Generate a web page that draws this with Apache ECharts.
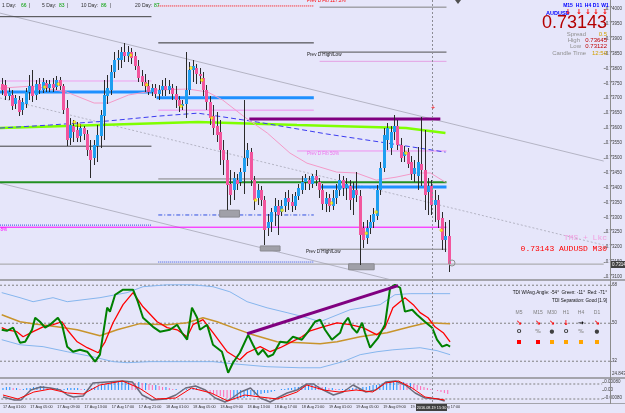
<!DOCTYPE html>
<html>
<head>
<meta charset="utf-8">
<script src="https://cdn.jsdelivr.net/npm/echarts@6/dist/echarts.min.js"></script>
<style>
  html, body { margin: 0; padding: 0; background: #e6e6fa; }
  #chart { width: 625px; height: 413px; }
</style>
</head>
<body>
<div id="chart"></div>
<script>
// AUDUSD M30, 17 Aug 01:00 -> 19 Aug, one value per candle
var opens = [0.73748,0.73744,0.73707,0.73711,0.73681,0.73694,0.73660,0.73681,0.73721,0.73741,
  0.73711,0.73748,0.73728,0.73751,0.73734,0.73748,0.73738,0.73761,0.73741,0.73667,
  0.73566,0.73607,0.73593,0.73573,0.73600,0.73580,0.73526,0.73499,0.73539,0.73573,
  0.73640,0.73707,0.73728,0.73788,0.73828,0.73828,0.73855,0.73842,0.73855,0.73842,
  0.73808,0.73775,0.73754,0.73741,0.73721,0.73734,0.73714,0.73728,0.73741,0.73728,
  0.73734,0.73714,0.73694,0.73674,0.73681,0.73728,0.73795,0.73802,0.73781,0.73768,
  0.73728,0.73687,0.73640,0.73607,0.73586,0.73526,0.73492,0.73412,0.73392,0.73425,
  0.73418,0.73452,0.73499,0.73519,0.73425,0.73365,0.73392,0.73358,0.73264,0.73284,
  0.73318,0.73338,0.73318,0.73338,0.73365,0.73351,0.73338,0.73371,0.73392,0.73418,
  0.73425,0.73412,0.73439,0.73418,0.73392,0.73345,0.73365,0.73338,0.73365,0.73392,
  0.73425,0.73398,0.73405,0.73365,0.73392,0.73371,0.73264,0.73230,0.73264,0.73284,
  0.73304,0.73392,0.73466,0.73560,0.73533,0.73586,0.73607,0.73543,0.73506,0.73519,
  0.73486,0.73445,0.73439,0.73479,0.73459,0.73385,0.73405,0.73341,0.73358,0.73298,
  0.73224,0.73237];
var closes = [0.73728,0.73707,0.73721,0.73674,0.73701,0.73654,0.73687,0.73721,0.73741,0.73707,
  0.73748,0.73728,0.73754,0.73734,0.73748,0.73734,0.73761,0.73741,0.73660,0.73560,
  0.73610,0.73586,0.73566,0.73600,0.73580,0.73526,0.73492,0.73543,0.73576,0.73644,
  0.73711,0.73734,0.73788,0.73828,0.73835,0.73855,0.73842,0.73855,0.73835,0.73808,
  0.73768,0.73754,0.73741,0.73721,0.73734,0.73714,0.73728,0.73741,0.73728,0.73741,
  0.73714,0.73694,0.73674,0.73681,0.73728,0.73795,0.73808,0.73781,0.73775,0.73728,
  0.73687,0.73634,0.73600,0.73576,0.73526,0.73492,0.73408,0.73375,0.73432,0.73412,
  0.73452,0.73499,0.73526,0.73425,0.73358,0.73392,0.73358,0.73257,0.73284,0.73318,
  0.73338,0.73308,0.73338,0.73365,0.73351,0.73338,0.73371,0.73398,0.73418,0.73432,
  0.73412,0.73439,0.73425,0.73392,0.73345,0.73365,0.73338,0.73365,0.73392,0.73425,
  0.73398,0.73412,0.73358,0.73392,0.73375,0.73240,0.73224,0.73264,0.73284,0.73311,
  0.73392,0.73466,0.73576,0.73600,0.73586,0.73607,0.73543,0.73499,0.73519,0.73479,
  0.73445,0.73466,0.73486,0.73459,0.73375,0.73405,0.73341,0.73358,0.73291,0.73224,
  0.73237,0.73143];
var highs = [0.73768,0.73761,0.73734,0.73728,0.73711,0.73707,0.73701,0.73734,0.73778,0.73795,
  0.73761,0.73768,0.73768,0.73761,0.73761,0.73768,0.73775,0.73771,0.73748,0.73694,
  0.73634,0.73627,0.73620,0.73613,0.73607,0.73593,0.73560,0.73560,0.73610,0.73660,
  0.73761,0.73778,0.73812,0.73855,0.73862,0.73872,0.73886,0.73875,0.73869,0.73855,
  0.73828,0.73795,0.73781,0.73761,0.73748,0.73748,0.73744,0.73761,0.73768,0.73761,
  0.73748,0.73741,0.73707,0.73694,0.73855,0.73822,0.73828,0.73815,0.73802,0.73788,
  0.73744,0.73707,0.73677,0.73654,0.73627,0.73560,0.73526,0.73459,0.73452,0.73445,
  0.73466,0.73694,0.73550,0.73533,0.73439,0.73412,0.73405,0.73371,0.73311,0.73331,
  0.73365,0.73358,0.73358,0.73385,0.73392,0.73378,0.73385,0.73412,0.73439,0.73445,
  0.73439,0.73445,0.73459,0.73432,0.73412,0.73385,0.73378,0.73392,0.73412,0.73445,
  0.73439,0.73432,0.73425,0.73418,0.73452,0.73392,0.73284,0.73291,0.73308,0.73331,
  0.73408,0.73486,0.73600,0.73617,0.73607,0.73644,0.73627,0.73566,0.73539,0.73533,
  0.73506,0.73492,0.73536,0.73637,0.73593,0.73432,0.73425,0.73392,0.73375,0.73318,
  0.73284,0.73291];
var lows = [0.73711,0.73694,0.73694,0.73660,0.73664,0.73640,0.73644,0.73667,0.73694,0.73687,
  0.73694,0.73714,0.73718,0.73721,0.73721,0.73721,0.73728,0.73728,0.73647,0.73539,
  0.73543,0.73553,0.73553,0.73553,0.73560,0.73506,0.73432,0.73476,0.73486,0.73533,
  0.73560,0.73681,0.73711,0.73768,0.73795,0.73802,0.73822,0.73822,0.73815,0.73795,
  0.73754,0.73741,0.73721,0.73711,0.73707,0.73701,0.73694,0.73707,0.73707,0.73714,
  0.73694,0.73667,0.73654,0.73660,0.73634,0.73711,0.73754,0.73748,0.73748,0.73707,
  0.73660,0.73610,0.73576,0.73553,0.73476,0.73442,0.73324,0.73341,0.73358,0.73392,
  0.73405,0.73378,0.73472,0.73405,0.73324,0.73341,0.73338,0.73207,0.73237,0.73250,
  0.73271,0.73240,0.73304,0.73318,0.73324,0.73318,0.73324,0.73358,0.73378,0.73392,
  0.73392,0.73398,0.73405,0.73365,0.73324,0.73318,0.73318,0.73324,0.73345,0.73371,
  0.73371,0.73358,0.73324,0.73308,0.73351,0.73140,0.73197,0.73210,0.73244,0.73264,
  0.73291,0.73375,0.73452,0.73526,0.73509,0.73560,0.73526,0.73486,0.73486,0.73466,
  0.73425,0.73418,0.73392,0.73405,0.73324,0.73308,0.73308,0.73284,0.73264,0.73190,
  0.73183,0.73116];

var priceTicks = [0.7310,0.7315,0.7320,0.7325,0.7330,0.7335,0.7340,0.7345,0.7350,0.7355,
  0.7360,0.7365,0.7370,0.7375,0.7380,0.7385,0.7390,0.7395,0.7400];
var timeLabels = ['17 Aug 01:00','17 Aug 05:00','17 Aug 09:00','17 Aug 13:00','17 Aug 17:00','17 Aug 21:00',
  '18 Aug 01:00','18 Aug 05:00','18 Aug 09:00','18 Aug 13:00','18 Aug 17:00','18 Aug 21:00',
  '19 Aug 01:00','19 Aug 05:00','19 Aug 09:00','19 Aug 13:00','19 Aug 17:00'];
var timeTicks = [0,8,16,24,32,40,48,56,64,72,80,88,96,104,112,120,128];

// horizontal levels: price, first candle, last candle
var levelPrice = [0.73974,0.74010,0.74006,0.73886,0.73855,0.73824,0.73758,0.73721,0.73702,0.73660,
  0.73630,0.73539,0.73523,0.73429,0.73418,0.73402,0.73308,0.73274,0.73267,0.73193,0.73150,0.73143];
var levelFrom = [-0.5,45.9,93.2,45.9,93.2,93.2,-0.5,-0.5,45.4,45.9,
  72.6,-0.5,86.6,45.9,-0.5,93.2,45.9,-0.5,-0.5,93.2,45.9,-0.5];
var levelTo = [43.9,91.5,130.4,91.5,130.4,130.4,43.9,44.5,91.5,91.5,
  128.6,43.9,130.4,93.2,130.4,130.4,91.5,43.9,130.4,130.4,91.5,176.5];
var levelStyle = [
  {color:'#404040', width:1}, {color:'#ff0000', width:1, type:'dotted'}, {color:'#808080', width:1},
  {color:'#303030', width:1}, {color:'#505050', width:1}, {color:'#e4a0e4', width:1},
  {color:'#f0a0f0', width:1}, {color:'#1e90ff', width:3}, {color:'#1e90ff', width:3},
  {color:'#f090f0', width:1}, {color:'#800080', width:3}, {color:'#404040', width:1},
  {color:'#f090f0', width:1}, {color:'#808080', width:1}, {color:'#229022', width:2},
  {color:'#1e90ff', width:3}, {color:'#3050e0', width:1, type:[4,2,1,2]}, {color:'#3050e0', width:1, type:'dotted'},
  {color:'#ff00ff', width:1}, {color:'#808080', width:1}, {color:'#3050e0', width:1, type:'dotted'},
  {color:'#a0a0a0', width:1}
];

// trend lines [candle, price]
var trendA = [[-0.5,0.73986],[176.5,0.73489]];
var trendB = [[-0.5,0.73701],[176.5,0.73207]];
var trendC = [[-0.5,0.73415],[115.6,0.73086]];

// moving averages on price
var maLime = [[-0.5,0.73600],[28.5,0.73610],[57.5,0.73620],[86.6,0.73610],[118.5,0.73600],[130.1,0.73583]];
var maBlue = [[-0.5,0.73600],[14,0.73610],[31.4,0.73624],[45.9,0.73640],[57.5,0.73650],[75,0.73620],
  [95.3,0.73580],[112.7,0.73550],[130.1,0.73519]];
var maPink = [[-0.5,0.73734],[9.1,0.73741],[19,0.73721],[27.1,0.73684],[31.4,0.73684],[37.2,0.73711],
  [45.9,0.73728],[54.6,0.73731],[60.4,0.73721],[64.8,0.73694],[71.2,0.73637],[77.9,0.73583],
  [84.5,0.73516],[89.5,0.73482],[98.2,0.73452],[104,0.73449],[109.8,0.73425],[115.6,0.73435],
  [121.4,0.73449],[125.7,0.73449],[130.1,0.73418]];

// swing-low boxes: from, to, top price, bottom price
var boxes = [[63.9,69.7,0.73324,0.73301],[75.8,81.6,0.73204,0.73187],[101.7,109.2,0.73144,0.73124]];
var dots = [[12.6,0.73738],[16.6,0.73748],[21.3,0.73620],[22.7,0.73610],[37.8,0.73845],[42.5,0.73745],
  [52.6,0.73674],[55.5,0.73802],[58.7,0.73761],[61.6,0.73634],[74.4,0.73358],[82.2,0.73324],
  [96.7,0.73348],[106.9,0.73247],[109.8,0.73318],[118.5,0.73516],[128.9,0.73257]];

// TDI panel
var tdiGreen = [[0,46.9],[1.5,46.4],[3.3,47.9],[5.3,40.8],[6.8,41.2],[8.8,46.9],[9.7,52.6],[11.1,50.7],
  [12.6,47.9],[14,49.3],[16.3,52.6],[17.5,49.3],[19,38.9],[20.7,36.5],[22.7,37.4],[24.8,36.5],
  [27.1,31.8],[28.5,35.1],[30.6,57.4],[31.4,55.5],[32.9,63.5],[35.2,65.9],[38.1,65.9],[39.5,60.2],
  [41,52.6],[43.9,48.3],[45.9,46],[48.8,46.9],[50.9,49.3],[52.3,45.5],[53.8,42.2],[55.2,57.4],
  [56.7,52.6],[57.5,46.9],[59.6,49.3],[61.3,39.8],[63.9,36.5],[65.7,26.5],[67.1,31.3],[69.1,36],
  [71.5,44.5],[72.9,39.8],[74.4,35.1],[75.8,37.4],[77.3,34.1],[78.7,35.1],[80.8,41.2],[82.8,40.8],
  [84.5,43.6],[87.1,42.2],[88.9,46],[90.9,50.7],[92.4,51.7],[93.8,46.9],[95.8,42.2],[98.2,45.5],
  [99,49.3],[100.5,52.6],[101.7,47.9],[103.1,45.5],[104.6,50.2],[105.4,45.5],[106.9,38.4],[109.2,43.1],
  [111.2,49.3],[112.7,66.8],[114.1,68.2],[115.6,66.8],[117,55.5],[119.1,56.4],[120.5,54],[122.8,50.7],
  [124.9,47.9],[126.3,42.2],[127.8,38.9],[129.2,39.8],[130.1,38.9]];
var tdiRed = [[0,47.9],[1.5,46.9],[4.4,46],[6.2,43.6],[9.1,46],[12,48.3],[14.9,49.3],[17.5,50.7],
  [19,46.9],[21.9,41.2],[24.8,38.4],[28,36],[30,41.2],[32.3,50.2],[35.2,58.8],[38.1,64.5],[41,57.8],
  [45.1,50.7],[48,47.9],[50.9,46.9],[53.8,43.6],[55.5,49.3],[58.4,51.7],[61.3,45.5],[65.4,36.5],
  [69.1,32.7],[71.2,36],[75,38.9],[77.9,36.5],[80.8,38.4],[83.7,40.8],[87.1,43.6],[89.5,46.4],
  [93.2,48.3],[97.3,50.2],[101.1,49.3],[104.8,47.9],[108.9,44.5],[111.2,47.9],[113.5,57.3],[117,62.1],
  [119.4,58.8],[121.4,55],[123.7,52.6],[125.7,48.3],[128.1,45.5],[130.1,41.2]];
var tdiUpper = [[0,64.5],[5.3,62.1],[9.1,60.2],[14.9,62.1],[19,60.2],[28.5,62.1],[36.4,64.5],[41,67.3],
  [48,68.2],[55.5,68.2],[61.3,67.3],[66.2,64.9],[71.2,60.2],[77,57.3],[82.8,55],[88.6,52.6],[92.4,50.7],
  [101.1,56.4],[109.8,58.8],[114.1,63.5],[118.5,64],[130.1,64]];
var tdiLower = [[0,42.2],[5.3,39.8],[12,38.9],[19,36.5],[26.5,34.1],[32.3,31.8],[36.4,31.3],[43,31.8],
  [53.8,31.8],[61.3,31.8],[67.1,30.8],[77,29.4],[86.6,28.9],[92.4,28.9],[99,31.8],[104,35.1],
  [108.9,36.5],[113.5,37.4],[121.4,38.4],[126.3,37],[130.1,35.1]];
var tdiMid = [[0,54],[5.3,50.7],[9.1,49.8],[16,48.3],[21.9,46.9],[28.5,44.1],[33.5,46.9],[40.1,49.8],
  [48,49.3],[53.8,50.2],[58.4,52.6],[62.5,50.7],[67.1,47.9],[72.9,44.5],[79.9,41.2],[86.6,40.8],
  [92.4,40.3],[97.3,41.2],[104,43.6],[111.8,45.5],[118.5,48.3],[123.4,50.2],[130.1,49.8]];
var tdiTrend = [[71.2,45],[115,67.8]];
var tdiLevels = [68, 50, 32];

// oscillator panel (points)
var oscHist = [2,3,3,2,2,1, 1,2,2,3, 3,4,4,3,2, 2,2,1,1,2, 2,2,2,1,1, 1,2,3,4,5,
  6,7,8,8,9, 9,9,9,8,7, 8,7,7,6,5,5,4,3,3, 2,1,1,0,1,1, 1,2,2,1,
  -1,-2,-3,-4,-5,-6,-7,-8,-9,-9, -9,-8,-8,-7,-6,-5,-5,-4,-3,
  -3,-2,-1,0,1,1, 2,2,3,3,4,4,5,5,5, 4,3,3,2,2,1,1,1,
  1,1,2,2,2,3,3,4,5,5,6,7, 8,9,9,9,8, 8,7,7,6,5,4,3,2,1,0,-1,-2,-3,-4];
var oscMain = [[0,-7],[3.3,-10],[5.3,-10],[8.2,0],[11.1,3],[14,2],[16.9,0],[19,-5],[20.7,-7],[23.6,-6],
  [26.5,7],[30.6,8],[35.2,9],[38.1,8],[41,-5],[43.9,-10],[48,-9],[50.9,-5],[53.8,2],[56.7,4],[59.6,0],
  [62.5,-8],[65.4,-12],[67.1,-9],[70,-2],[72.9,2],[75.8,-8],[78.7,-12],[80.8,-8],[83.7,-3],[86.6,0],
  [89.5,6],[91.5,6],[93.2,2],[97.3,-5],[100.2,-2],[103.1,5],[106.9,-2],[109.8,0],[112.7,8],[115.6,9],
  [118.5,5],[121.4,-3],[124.3,-8],[128.1,-9],[130.1,-11]];
var oscSignal = [[0,-5],[4.4,-9],[9.1,-2],[14,1],[19,-3],[23.6,-4],[28.5,5],[35.2,9],[40.1,2],[45.1,-9],
  [50.9,-8],[55.5,2],[61.3,-3],[66.2,-11],[71.2,-5],[75.8,-7],[80.8,-9],[86.6,-2],[89.5,5],[94.4,0],
  [99,-2],[104,0],[108.9,-2],[112.7,7],[116.5,9],[120.5,2],[124.3,-7],[130.1,-10]];
var oscLevels = [6, -9];
var oscTicks = [8, 0, -8];

var tfNames = ['M5','M15','M30','H1','H4','D1'];
var tfArrows = ['\u2198','\u2198','\u2198','\u2193','\u2192','\u2198'];
var tfMarks = ['O','%','\u25CF','O','%','\u25CF'];

var FONT = 'Liberation Sans, Arial, sans-serif';
var chartDOM = document.getElementById('chart');
var chart = echarts.init(chartDOM, null, { renderer: 'canvas' });

function xAx(i, show) {
  return {
    gridIndex: i, type: 'value', min: -0.5, max: 176.5, show: show,
    axisLine: { show: false, onZero: false }, axisTick: { show: false }, splitLine: { show: false },
    axisLabel: {
      show: show, customValues: timeTicks, fontSize: 3.8, color: '#303030', fontFamily: FONT,
      align: 'left', margin: 2,
      formatter: function (v) { return timeLabels[Math.round(v / 8)]; }
    }
  };
}
function yAx(i, min, max, ticks, fmt) {
  return {
    gridIndex: i, type: 'value', position: 'right', min: min, max: max,
    axisLine: { show: false, onZero: false },
    axisTick: { show: true, length: 2, customValues: ticks, lineStyle: { color: '#8c8c8c' } },
    splitLine: { show: false },
    axisLabel: { customValues: ticks, formatter: fmt, fontSize: 4.5, color: '#404040', margin: 2, fontFamily: FONT }
  };
}
function line(data, color, width, xi, extra) {
  var s = {
    type: 'line', xAxisIndex: xi, yAxisIndex: xi, data: data, symbol: 'none', silent: true,
    lineStyle: { color: color, width: width }, z: 3
  };
  if (extra) { for (var k in extra) s[k] = extra[k]; }
  return s;
}

var series = [];
// levels
levelPrice.forEach(function (p, k) {
  var st = levelStyle[k];
  series.push(line([[levelFrom[k], p], [levelTo[k], p]], st.color, st.width, 0,
    { lineStyle: { color: st.color, width: st.width, type: st.type || 'solid' }, z: 2 }));
});
series.push(line(trendA, '#b4b4c4', 1, 0, { z: 1 }));
series.push(line(trendB, '#b4b4c4', 1, 0, { z: 1, lineStyle: { color: '#b4b4c4', width: 1, type: [2, 2] } }));
series.push(line(trendC, '#b4b4c4', 1, 0, { z: 1 }));
series.push(line(maLime, '#7fff00', 2.5, 0, { z: 2 }));
series.push(line(maBlue, '#3c3cf0', 1, 0, { z: 2, lineStyle: { color: '#3c3cf0', width: 1, type: [5, 3] } }));
series.push(line(maPink, '#f49ac8', 1, 0, { z: 2 }));

// swing boxes
series.push({
  type: 'custom', xAxisIndex: 0, yAxisIndex: 0, z: 4, silent: true,
  renderItem: function (params, api) {
    var a = api.coord([api.value(0), api.value(2)]);
    var b = api.coord([api.value(1), api.value(3)]);
    return { type: 'rect', shape: { x: a[0], y: a[1], width: b[0] - a[0], height: b[1] - a[1] },
      style: { fill: '#a0a0a8', stroke: '#8a8a90' } };
  },
  encode: { x: [0, 1], y: [2, 3] },
  data: boxes
});

// candles
var candleData = opens.map(function (o, i) { return [i, o, closes[i], lows[i], highs[i]]; });
series.push({
  type: 'custom', xAxisIndex: 0, yAxisIndex: 0, z: 5, silent: true,
  renderItem: function (params, api) {
    var i = api.value(0);
    var o = api.coord([i, api.value(1)]);
    var c = api.coord([i, api.value(2)]);
    var l = api.coord([i, api.value(3)]);
    var h = api.coord([i, api.value(4)]);
    var x = Math.round(o[0]);
    var top = Math.round(Math.min(o[1], c[1]));
    var bh = Math.max(1, Math.round(Math.abs(o[1] - c[1])));
    var up = api.value(2) >= api.value(1);
    return { type: 'group', children: [
      { type: 'line', shape: { x1: x + 0.5, y1: Math.round(h[1]), x2: x + 0.5, y2: Math.round(l[1]) },
        style: { stroke: '#2a2a2a', lineWidth: 1 } },
      { type: 'rect', shape: { x: x - 1, y: top, width: 3, height: bh },
        style: { fill: up ? '#1e9ef0' : '#f2559d' } }
    ] };
  },
  encode: { x: 0, y: [1, 2, 3, 4] },
  data: candleData
});
series.push({
  type: 'scatter', xAxisIndex: 0, yAxisIndex: 0, z: 6, silent: true, symbolSize: 3,
  itemStyle: { color: '#ffff00', borderColor: '#d0a000', borderWidth: 0.5 }, data: dots
});

// TDI
tdiLevels.forEach(function (v) {
  series.push(line([[-0.5, v], [176.5, v]], '#808080', 1, 1,
    { z: 1, lineStyle: { color: '#808080', width: 1, type: [2, 2] } }));
});
series.push(line(tdiUpper, '#86b6ee', 1, 1));
series.push(line(tdiLower, '#86b6ee', 1, 1));
series.push(line(tdiMid, '#c8942c', 1.5, 1));
series.push(line(tdiRed, '#ff0000', 1.3, 1, { z: 4 }));
series.push(line(tdiGreen, '#008000', 2, 1, { z: 5 }));
series.push(line(tdiTrend, '#800080', 3, 1, { z: 6 }));

// oscillator
oscLevels.forEach(function (v) {
  series.push(line([[-0.5, v], [176.5, v]], '#808080', 1, 2,
    { z: 1, lineStyle: { color: '#808080', width: 1, type: [2, 2] } }));
});
series.push({
  type: 'bar', xAxisIndex: 2, yAxisIndex: 2, barWidth: 1, silent: true, z: 2,
  data: oscHist.map(function (v, i) { return [i, v]; }),
  itemStyle: {
    color: function (p) {
      var i = p.dataIndex;
      return (i === 0 || oscHist[i] >= oscHist[i - 1]) ? '#1e90ff' : '#ff69b4';
    }
  }
});
series.push(line(oscMain, '#6c6c7c', 1.5, 2, { z: 4 }));
series.push(line(oscSignal, '#ff0000', 1, 2, { z: 5 }));

function txt(text, x, y, color, font, align) {
  return { type: 'text', silent: true, z: 20,
    style: { text: text, x: x, y: y, fill: color, font: font, textAlign: align || 'left', textVerticalAlign: 'middle' } };
}
var f6 = '6px ' + FONT;
var f5 = '5px ' + FONT;
var f46 = '4.6px ' + FONT;
var g = [
  { type: 'rect', z: 15, silent: true, shape: { x: 0, y: 279, width: 625, height: 2 }, style: { fill: '#a4a4ac' } },
  { type: 'rect', z: 15, silent: true, shape: { x: 0, y: 377, width: 625, height: 2 }, style: { fill: '#a4a4ac' } },
  { type: 'rect', z: 15, silent: true, shape: { x: 0, y: 403, width: 625, height: 1 }, style: { fill: '#a4a4ac' } },
  { type: 'rect', z: 15, silent: true, shape: { x: 610, y: 0, width: 1, height: 404 }, style: { fill: '#8c8c8c' } },
  { type: 'line', z: 14, silent: true, shape: { x1: 432.5, y1: 0, x2: 432.5, y2: 403 },
    style: { stroke: '#8c8c94', lineWidth: 1, lineDash: [2, 2] } },
  { type: 'polygon', z: 16, silent: true, shape: { points: [[455, 0], [461, 0], [458, 4]] }, style: { fill: '#505050' } },
  { type: 'circle', z: 16, silent: true, shape: { cx: 452, cy: 263, r: 3 }, style: { fill: 'none', stroke: '#909090' } },
  txt('+', 433, 108, '#ff0000', '7px ' + FONT, 'center'),
  // top-left stats
  txt('1 Day: ', 2, 6, '#303030', f5), txt('66', 21, 6, '#00a000', f5), txt('|', 29, 6, '#303030', f5),
  txt('5 Day: ', 42, 6, '#303030', f5), txt('83', 59, 6, '#00a000', f5), txt('|', 67, 6, '#303030', f5),
  txt('10 Day: ', 81, 6, '#303030', f5), txt('86', 101, 6, '#00a000', f5), txt('|', 110, 6, '#303030', f5),
  txt('20 Day: ', 135, 6, '#303030', f5), txt('87', 154, 6, '#00a000', f5),
  txt('Prev D Fib 127.2%', 307, 1, '#ff0000', f46),
  txt('Prev D High/Low', 307, 55, '#202020', f46),
  txt('Prev D Fib 50%', 307, 154, '#ee70ee', f46),
  txt('Prev D High/Low', 306, 252, '#202020', f46),
  txt('61.8%', -6, 230, '#ff00ff', f46),
  // info box
  txt('M15', 568, 6, '#0000ff', 'bold 5px ' + FONT, 'center'), txt('H1', 579, 6, '#0000ff', 'bold 5px ' + FONT, 'center'),
  txt('H4', 588, 6, '#0000ff', 'bold 5px ' + FONT, 'center'), txt('D1', 596, 6, '#0000ff', 'bold 5px ' + FONT, 'center'),
  txt('W1', 605, 6, '#0000ff', 'bold 5px ' + FONT, 'center'),
  txt('AUDUSD', 546, 13, '#0000ff', 'bold 5.5px ' + FONT),
  txt('0.73143', 607, 23, '#b40000', '18px ' + FONT, 'right'),
  txt('Spread', 586, 34, '#909090', f6, 'right'), txt('0.5', 607, 34, '#d2a000', f6, 'right'),
  txt('High', 580, 40, '#909090', f6, 'right'), txt('0.73645', 607, 40, '#c00000', f6, 'right'),
  txt('Low', 581, 46, '#909090', f6, 'right'), txt('0.73122', 607, 46, '#c00000', f6, 'right'),
  txt('Candle Time', 586, 53, '#909090', f6, 'right'), txt('12:50', 607, 53, '#d2a000', f6, 'right'),
  txt('TMS + Lkc', 607, 238, '#f0a0e0', '8px Liberation Mono, monospace', 'right'),
  txt('0.73143 AUDUSD M30', 607, 249, '#ff0000', '8px Liberation Mono, monospace', 'right'),
  { type: 'rect', z: 16, silent: true, shape: { x: 611, y: 261, width: 14, height: 7 }, style: { fill: '#404040' } },
  txt('0.73143', 612, 264.5, '#ffffff', '4.5px ' + FONT),
  // TDI info
  txt('TDI W/Avg.Angle: -54\u00b0  Green: -11\u00b0  Red: -71\u00b0', 607, 293, '#101010', f46, 'right'),
  txt('TDI Separation: Good [1.9]', 607, 301, '#101010', f46, 'right'),
  txt('24.843', 612, 374, '#404040', '4.5px ' + FONT),
  // time crosshair box
  { type: 'rect', z: 16, silent: true, shape: { x: 416, y: 404, width: 31, height: 7 }, style: { fill: '#404040' } },
  txt('2016.08.19 15:30', 431.5, 407.5, '#ffffff', '3.8px ' + FONT, 'center')
];
// arrows row of the timeframe header
[568, 579, 588, 596, 605].forEach(function (x) { g.push(txt('\u2193', x, 12, '#ff0000', 'bold 7px DejaVu Sans', 'center')); });
var tfX = [519, 538, 552, 566, 581, 597];
tfNames.forEach(function (n, k) {
  g.push(txt(n, tfX[k], 313, '#808080', f5, 'center'));
  g.push(txt(tfArrows[k], tfX[k], 323, tfArrows[k] === '\u2192' ? '#000000' : '#ff0000', 'bold 7px DejaVu Sans', 'center'));
  g.push(txt(tfMarks[k], tfX[k], 332, tfMarks[k] === '%' ? '#909090' : '#404040', 'bold 5.5px DejaVu Sans', 'center'));
  g.push({ type: 'rect', z: 16, silent: true, shape: { x: tfX[k] - 2, y: 340, width: 4, height: 4 },
    style: { fill: k < 2 ? '#ff0000' : '#ffa500' } });
});

var option = {
  animation: false,
  backgroundColor: '#e6e6fa',
  grid: [
    { left: 0, top: 0, width: 610, height: 279 },
    { left: 0, top: 281, width: 610, height: 95 },
    { left: 0, top: 379, width: 610, height: 24 }
  ],
  xAxis: [xAx(0, false), xAx(1, false), xAx(2, true)],
  yAxis: [
    yAx(0, 0.73093, 0.74030, priceTicks, function (v) { return v.toFixed(5); }),
    yAx(1, 25, 70, tdiLevels, function (v) { return String(v); }),
    yAx(2, -13, 11, oscTicks, function (v) { return (v / 10000).toFixed(v === 0 ? 2 : 5); })
  ],
  graphic: g,
  series: series
};
chart.setOption(option);
</script>
</body>
</html>
